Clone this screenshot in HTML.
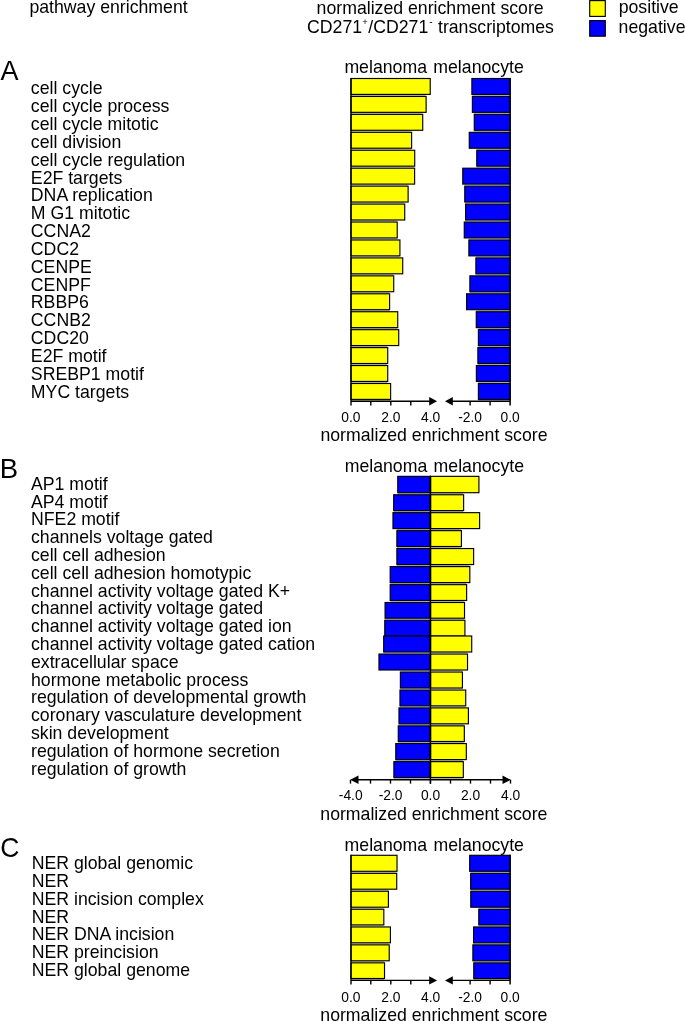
<!DOCTYPE html>
<html><head><meta charset="utf-8"><style>
html,body{margin:0;padding:0;background:#fff;}
svg{display:block;will-change:transform;}
text{font-family:"Liberation Sans", sans-serif;fill:#000;}
</style></head><body>
<svg width="685" height="1021" viewBox="0 0 685 1021">
<rect width="685" height="1021" fill="#fff"/>
<text x="29.4" y="13.0" font-size="17.7" text-anchor="start" >pathway enrichment</text>
<text x="316.6" y="13.75" font-size="17.7" text-anchor="start" >normalized enrichment score</text>
<text x="307.0" y="33.3" font-size="17.7" text-anchor="start" >CD271<tspan font-size="9.5" dy="-8.2" dx="0.2">+</tspan><tspan dy="8.2" dx="0.5">/CD271</tspan><tspan font-size="10" dy="-8.8" dx="1.0">-</tspan><tspan dy="8.8" dx="0.4"> transcriptomes</tspan></text>
<rect x="589.70" y="0.60" width="15.60" height="15.80" fill="#ffff00" stroke="#000" stroke-width="1.15"/>
<rect x="589.70" y="20.60" width="15.60" height="15.60" fill="#0000ff" stroke="#000" stroke-width="1.15"/>
<text x="618.7" y="13.3" font-size="17.7" text-anchor="start" >positive</text>
<text x="618.6" y="33.2" font-size="17.7" text-anchor="start" >negative</text>
<text x="0.6" y="79.5" font-size="27" text-anchor="start" >A</text>
<text x="344.4" y="73.3" font-size="17.7" text-anchor="start" >melanoma</text>
<text x="433.3" y="73.3" font-size="17.7" text-anchor="start" >melanocyte</text>
<text x="30.85" y="94.4" font-size="17.7" text-anchor="start" >cell cycle</text>
<text x="30.85" y="112.23500000000001" font-size="17.7" text-anchor="start" >cell cycle process</text>
<text x="30.85" y="130.07" font-size="17.7" text-anchor="start" >cell cycle mitotic</text>
<text x="30.85" y="147.905" font-size="17.7" text-anchor="start" >cell division</text>
<text x="30.85" y="165.74" font-size="17.7" text-anchor="start" >cell cycle regulation</text>
<text x="30.85" y="183.57500000000002" font-size="17.7" text-anchor="start" >E2F targets</text>
<text x="30.85" y="201.41000000000003" font-size="17.7" text-anchor="start" >DNA replication</text>
<text x="30.85" y="219.245" font-size="17.7" text-anchor="start" >M G1 mitotic</text>
<text x="30.85" y="237.08" font-size="17.7" text-anchor="start" >CCNA2</text>
<text x="30.85" y="254.91500000000002" font-size="17.7" text-anchor="start" >CDC2</text>
<text x="30.85" y="272.75" font-size="17.7" text-anchor="start" >CENPE</text>
<text x="30.85" y="290.58500000000004" font-size="17.7" text-anchor="start" >CENPF</text>
<text x="30.85" y="308.42" font-size="17.7" text-anchor="start" >RBBP6</text>
<text x="30.85" y="326.255" font-size="17.7" text-anchor="start" >CCNB2</text>
<text x="30.85" y="344.09000000000003" font-size="17.7" text-anchor="start" >CDC20</text>
<text x="30.85" y="361.92500000000007" font-size="17.7" text-anchor="start" >E2F motif</text>
<text x="30.85" y="379.76" font-size="17.7" text-anchor="start" >SREBP1 motif</text>
<text x="30.85" y="397.595" font-size="17.7" text-anchor="start" >MYC targets</text>
<rect x="351.00" y="94.80" width="74.60" height="1.00" fill="#b0b0b0"/>
<rect x="472.40" y="94.80" width="37.70" height="1.00" fill="#b0b0b0"/>
<rect x="351.00" y="112.74" width="71.20" height="1.00" fill="#b0b0b0"/>
<rect x="474.30" y="112.74" width="35.80" height="1.00" fill="#b0b0b0"/>
<rect x="351.00" y="130.68" width="60.10" height="1.00" fill="#b0b0b0"/>
<rect x="474.30" y="130.68" width="35.80" height="1.00" fill="#b0b0b0"/>
<rect x="351.00" y="148.62" width="60.10" height="1.00" fill="#b0b0b0"/>
<rect x="476.80" y="148.62" width="33.30" height="1.00" fill="#b0b0b0"/>
<rect x="351.00" y="166.56" width="63.10" height="1.00" fill="#b0b0b0"/>
<rect x="476.80" y="166.56" width="33.30" height="1.00" fill="#b0b0b0"/>
<rect x="351.00" y="184.50" width="56.60" height="1.00" fill="#b0b0b0"/>
<rect x="464.80" y="184.50" width="45.30" height="1.00" fill="#b0b0b0"/>
<rect x="351.00" y="202.44" width="53.20" height="1.00" fill="#b0b0b0"/>
<rect x="465.60" y="202.44" width="44.50" height="1.00" fill="#b0b0b0"/>
<rect x="351.00" y="220.38" width="45.70" height="1.00" fill="#b0b0b0"/>
<rect x="465.60" y="220.38" width="44.50" height="1.00" fill="#b0b0b0"/>
<rect x="351.00" y="238.32" width="45.70" height="1.00" fill="#b0b0b0"/>
<rect x="468.90" y="238.32" width="41.20" height="1.00" fill="#b0b0b0"/>
<rect x="351.00" y="256.26" width="48.40" height="1.00" fill="#b0b0b0"/>
<rect x="475.90" y="256.26" width="34.20" height="1.00" fill="#b0b0b0"/>
<rect x="351.00" y="274.20" width="42.20" height="1.00" fill="#b0b0b0"/>
<rect x="475.90" y="274.20" width="34.20" height="1.00" fill="#b0b0b0"/>
<rect x="351.00" y="292.14" width="38.10" height="1.00" fill="#b0b0b0"/>
<rect x="469.90" y="292.14" width="40.20" height="1.00" fill="#b0b0b0"/>
<rect x="351.00" y="310.08" width="38.10" height="1.00" fill="#b0b0b0"/>
<rect x="476.30" y="310.08" width="33.80" height="1.00" fill="#b0b0b0"/>
<rect x="351.00" y="328.02" width="46.20" height="1.00" fill="#b0b0b0"/>
<rect x="478.40" y="328.02" width="31.70" height="1.00" fill="#b0b0b0"/>
<rect x="351.00" y="345.96" width="36.20" height="1.00" fill="#b0b0b0"/>
<rect x="478.40" y="345.96" width="31.70" height="1.00" fill="#b0b0b0"/>
<rect x="351.00" y="363.90" width="36.20" height="1.00" fill="#b0b0b0"/>
<rect x="477.90" y="363.90" width="32.20" height="1.00" fill="#b0b0b0"/>
<rect x="351.00" y="381.84" width="36.20" height="1.00" fill="#b0b0b0"/>
<rect x="478.40" y="381.84" width="31.70" height="1.00" fill="#b0b0b0"/>
<rect x="351.00" y="399.78" width="39.10" height="1.00" fill="#b0b0b0"/>
<rect x="478.40" y="399.78" width="31.70" height="1.00" fill="#b0b0b0"/>
<rect x="350.97" y="78.50" width="79.25" height="15.90" fill="#ffff00" stroke="#000" stroke-width="1.15"/>
<rect x="471.88" y="78.50" width="38.25" height="15.90" fill="#0000ff" stroke="#000" stroke-width="1.15"/>
<rect x="350.97" y="96.45" width="75.15" height="15.89" fill="#ffff00" stroke="#000" stroke-width="1.15"/>
<rect x="472.38" y="96.45" width="37.75" height="15.89" fill="#0000ff" stroke="#000" stroke-width="1.15"/>
<rect x="350.97" y="114.39" width="71.75" height="15.89" fill="#ffff00" stroke="#000" stroke-width="1.15"/>
<rect x="474.27" y="114.39" width="35.85" height="15.89" fill="#0000ff" stroke="#000" stroke-width="1.15"/>
<rect x="350.97" y="132.33" width="60.65" height="15.89" fill="#ffff00" stroke="#000" stroke-width="1.15"/>
<rect x="469.27" y="132.33" width="40.85" height="15.89" fill="#0000ff" stroke="#000" stroke-width="1.15"/>
<rect x="350.97" y="150.27" width="63.75" height="15.89" fill="#ffff00" stroke="#000" stroke-width="1.15"/>
<rect x="476.77" y="150.27" width="33.35" height="15.89" fill="#0000ff" stroke="#000" stroke-width="1.15"/>
<rect x="350.97" y="168.21" width="63.65" height="15.89" fill="#ffff00" stroke="#000" stroke-width="1.15"/>
<rect x="462.77" y="168.21" width="47.35" height="15.89" fill="#0000ff" stroke="#000" stroke-width="1.15"/>
<rect x="350.97" y="186.15" width="57.15" height="15.89" fill="#ffff00" stroke="#000" stroke-width="1.15"/>
<rect x="464.77" y="186.15" width="45.35" height="15.89" fill="#0000ff" stroke="#000" stroke-width="1.15"/>
<rect x="350.97" y="204.09" width="53.75" height="15.89" fill="#ffff00" stroke="#000" stroke-width="1.15"/>
<rect x="465.57" y="204.09" width="44.55" height="15.89" fill="#0000ff" stroke="#000" stroke-width="1.15"/>
<rect x="350.97" y="222.03" width="46.25" height="15.89" fill="#ffff00" stroke="#000" stroke-width="1.15"/>
<rect x="464.27" y="222.03" width="45.85" height="15.89" fill="#0000ff" stroke="#000" stroke-width="1.15"/>
<rect x="350.97" y="239.97" width="48.95" height="15.89" fill="#ffff00" stroke="#000" stroke-width="1.15"/>
<rect x="468.88" y="239.97" width="41.25" height="15.89" fill="#0000ff" stroke="#000" stroke-width="1.15"/>
<rect x="350.97" y="257.91" width="51.75" height="15.89" fill="#ffff00" stroke="#000" stroke-width="1.15"/>
<rect x="475.88" y="257.91" width="34.25" height="15.89" fill="#0000ff" stroke="#000" stroke-width="1.15"/>
<rect x="350.97" y="275.85" width="42.75" height="15.89" fill="#ffff00" stroke="#000" stroke-width="1.15"/>
<rect x="469.88" y="275.85" width="40.25" height="15.89" fill="#0000ff" stroke="#000" stroke-width="1.15"/>
<rect x="350.97" y="293.79" width="38.65" height="15.89" fill="#ffff00" stroke="#000" stroke-width="1.15"/>
<rect x="466.57" y="293.79" width="43.55" height="15.89" fill="#0000ff" stroke="#000" stroke-width="1.15"/>
<rect x="350.97" y="311.73" width="46.75" height="15.89" fill="#ffff00" stroke="#000" stroke-width="1.15"/>
<rect x="476.27" y="311.73" width="33.85" height="15.89" fill="#0000ff" stroke="#000" stroke-width="1.15"/>
<rect x="350.97" y="329.67" width="47.75" height="15.89" fill="#ffff00" stroke="#000" stroke-width="1.15"/>
<rect x="478.38" y="329.67" width="31.75" height="15.89" fill="#0000ff" stroke="#000" stroke-width="1.15"/>
<rect x="350.97" y="347.61" width="36.75" height="15.89" fill="#ffff00" stroke="#000" stroke-width="1.15"/>
<rect x="477.88" y="347.61" width="32.25" height="15.89" fill="#0000ff" stroke="#000" stroke-width="1.15"/>
<rect x="350.97" y="365.55" width="36.75" height="15.89" fill="#ffff00" stroke="#000" stroke-width="1.15"/>
<rect x="476.38" y="365.55" width="33.75" height="15.89" fill="#0000ff" stroke="#000" stroke-width="1.15"/>
<rect x="350.97" y="383.49" width="39.65" height="15.89" fill="#ffff00" stroke="#000" stroke-width="1.15"/>
<rect x="478.38" y="383.49" width="31.75" height="15.89" fill="#0000ff" stroke="#000" stroke-width="1.15"/>
<line x1="351.00" y1="77.95" x2="351.00" y2="405.48" stroke="#000" stroke-width="1.4"/>
<line x1="510.10" y1="77.95" x2="510.10" y2="405.48" stroke="#000" stroke-width="1.5"/>
<line x1="351.00" y1="401.28" x2="430.00" y2="401.28" stroke="#000" stroke-width="1.4"/>
<polygon points="437.10,401.28 429.20,397.08 429.20,405.48" fill="#000"/>
<line x1="370.80" y1="401.28" x2="370.80" y2="405.48" stroke="#000" stroke-width="1.4"/>
<line x1="390.80" y1="401.28" x2="390.80" y2="405.48" stroke="#000" stroke-width="1.4"/>
<line x1="410.80" y1="401.28" x2="410.80" y2="405.48" stroke="#000" stroke-width="1.4"/>
<line x1="452.00" y1="401.28" x2="510.10" y2="401.28" stroke="#000" stroke-width="1.4"/>
<polygon points="445.00,401.28 452.80,397.08 452.80,405.48" fill="#000"/>
<line x1="490.10" y1="401.28" x2="490.10" y2="405.48" stroke="#000" stroke-width="1.4"/>
<line x1="470.10" y1="401.28" x2="470.10" y2="405.48" stroke="#000" stroke-width="1.4"/>
<text x="350.8" y="421.9" font-size="13.8" text-anchor="middle" >0.0</text>
<text x="390.8" y="421.9" font-size="13.8" text-anchor="middle" >2.0</text>
<text x="430.6" y="421.9" font-size="13.8" text-anchor="middle" >4.0</text>
<text x="470.1" y="421.9" font-size="13.8" text-anchor="middle" >-2.0</text>
<text x="510.1" y="421.9" font-size="13.8" text-anchor="middle" >0.0</text>
<text x="320.4" y="441.2" font-size="17.7" text-anchor="start" >normalized enrichment score</text>
<text x="-0.3" y="477.9" font-size="27.5" text-anchor="start" >B</text>
<text x="344.7" y="471.6" font-size="17.7" text-anchor="start" >melanoma</text>
<text x="433.6" y="471.6" font-size="17.7" text-anchor="start" >melanocyte</text>
<text x="31.0" y="489.9" font-size="17.7" text-anchor="start" >AP1 motif</text>
<text x="31.0" y="507.69" font-size="17.7" text-anchor="start" >AP4 motif</text>
<text x="31.0" y="525.48" font-size="17.7" text-anchor="start" >NFE2 motif</text>
<text x="31.0" y="543.27" font-size="17.7" text-anchor="start" >channels voltage gated</text>
<text x="31.0" y="561.06" font-size="17.7" text-anchor="start" >cell cell adhesion</text>
<text x="31.0" y="578.8499999999999" font-size="17.7" text-anchor="start" >cell cell adhesion homotypic</text>
<text x="31.0" y="596.64" font-size="17.7" text-anchor="start" >channel activity voltage gated K+</text>
<text x="31.0" y="614.43" font-size="17.7" text-anchor="start" >channel activity voltage gated</text>
<text x="31.0" y="632.22" font-size="17.7" text-anchor="start" >channel activity voltage gated ion</text>
<text x="31.0" y="650.01" font-size="17.7" text-anchor="start" >channel activity voltage gated cation</text>
<text x="31.0" y="667.8" font-size="17.7" text-anchor="start" >extracellular space</text>
<text x="31.0" y="685.5899999999999" font-size="17.7" text-anchor="start" >hormone metabolic process</text>
<text x="31.0" y="703.38" font-size="17.7" text-anchor="start" >regulation of developmental growth</text>
<text x="31.0" y="721.17" font-size="17.7" text-anchor="start" >coronary vasculature development</text>
<text x="31.0" y="738.96" font-size="17.7" text-anchor="start" >skin development</text>
<text x="31.0" y="756.75" font-size="17.7" text-anchor="start" >regulation of hormone secretion</text>
<text x="31.0" y="774.54" font-size="17.7" text-anchor="start" >regulation of growth</text>
<rect x="397.80" y="493.10" width="65.30" height="1.00" fill="#b0b0b0"/>
<rect x="393.70" y="511.00" width="69.40" height="1.00" fill="#b0b0b0"/>
<rect x="396.90" y="529.00" width="64.00" height="1.00" fill="#b0b0b0"/>
<rect x="396.90" y="546.90" width="64.00" height="1.00" fill="#b0b0b0"/>
<rect x="396.90" y="564.95" width="72.40" height="1.00" fill="#b0b0b0"/>
<rect x="390.20" y="583.00" width="75.90" height="1.00" fill="#b0b0b0"/>
<rect x="390.20" y="600.85" width="73.80" height="1.00" fill="#b0b0b0"/>
<rect x="385.10" y="618.60" width="78.90" height="1.00" fill="#b0b0b0"/>
<rect x="383.70" y="652.40" width="83.30" height="1.00" fill="#b0b0b0"/>
<rect x="400.40" y="670.40" width="61.50" height="1.00" fill="#b0b0b0"/>
<rect x="400.40" y="688.40" width="61.50" height="1.00" fill="#b0b0b0"/>
<rect x="400.00" y="706.25" width="65.20" height="1.00" fill="#b0b0b0"/>
<rect x="399.00" y="724.20" width="64.80" height="1.00" fill="#b0b0b0"/>
<rect x="398.30" y="741.90" width="65.50" height="1.00" fill="#b0b0b0"/>
<rect x="395.80" y="760.00" width="67.00" height="1.00" fill="#b0b0b0"/>
<rect x="393.90" y="777.90" width="68.90" height="1.00" fill="#b0b0b0"/>
<rect x="397.77" y="476.35" width="32.35" height="16.35" fill="#0000ff" stroke="#000" stroke-width="1.15"/>
<rect x="430.67" y="476.35" width="48.25" height="16.35" fill="#ffff00" stroke="#000" stroke-width="1.15"/>
<rect x="393.68" y="494.75" width="36.45" height="15.85" fill="#0000ff" stroke="#000" stroke-width="1.15"/>
<rect x="430.67" y="494.75" width="32.95" height="15.85" fill="#ffff00" stroke="#000" stroke-width="1.15"/>
<rect x="392.97" y="512.65" width="37.15" height="15.95" fill="#0000ff" stroke="#000" stroke-width="1.15"/>
<rect x="430.67" y="512.65" width="48.95" height="15.95" fill="#ffff00" stroke="#000" stroke-width="1.15"/>
<rect x="396.88" y="530.65" width="33.25" height="15.85" fill="#0000ff" stroke="#000" stroke-width="1.15"/>
<rect x="430.67" y="530.65" width="30.75" height="15.85" fill="#ffff00" stroke="#000" stroke-width="1.15"/>
<rect x="396.88" y="548.55" width="33.25" height="16.00" fill="#0000ff" stroke="#000" stroke-width="1.15"/>
<rect x="430.67" y="548.55" width="42.95" height="16.00" fill="#ffff00" stroke="#000" stroke-width="1.15"/>
<rect x="390.18" y="566.60" width="39.95" height="16.00" fill="#0000ff" stroke="#000" stroke-width="1.15"/>
<rect x="430.67" y="566.60" width="39.15" height="16.00" fill="#ffff00" stroke="#000" stroke-width="1.15"/>
<rect x="390.18" y="584.65" width="39.95" height="15.80" fill="#0000ff" stroke="#000" stroke-width="1.15"/>
<rect x="430.67" y="584.65" width="35.95" height="15.80" fill="#ffff00" stroke="#000" stroke-width="1.15"/>
<rect x="385.07" y="602.50" width="45.05" height="15.70" fill="#0000ff" stroke="#000" stroke-width="1.15"/>
<rect x="430.67" y="602.50" width="33.85" height="15.70" fill="#ffff00" stroke="#000" stroke-width="1.15"/>
<rect x="384.77" y="620.25" width="45.35" height="15.75" fill="#0000ff" stroke="#000" stroke-width="1.15"/>
<rect x="430.67" y="620.25" width="34.25" height="15.75" fill="#ffff00" stroke="#000" stroke-width="1.15"/>
<rect x="383.68" y="636.00" width="46.45" height="16.00" fill="#0000ff" stroke="#000" stroke-width="1.15"/>
<rect x="430.67" y="636.00" width="41.05" height="16.00" fill="#ffff00" stroke="#000" stroke-width="1.15"/>
<rect x="378.97" y="654.05" width="51.15" height="15.95" fill="#0000ff" stroke="#000" stroke-width="1.15"/>
<rect x="430.67" y="654.05" width="36.85" height="15.95" fill="#ffff00" stroke="#000" stroke-width="1.15"/>
<rect x="400.38" y="672.05" width="29.75" height="15.95" fill="#0000ff" stroke="#000" stroke-width="1.15"/>
<rect x="430.67" y="672.05" width="31.75" height="15.95" fill="#ffff00" stroke="#000" stroke-width="1.15"/>
<rect x="399.97" y="690.05" width="30.15" height="15.80" fill="#0000ff" stroke="#000" stroke-width="1.15"/>
<rect x="430.67" y="690.05" width="35.05" height="15.80" fill="#ffff00" stroke="#000" stroke-width="1.15"/>
<rect x="398.97" y="707.90" width="31.15" height="15.90" fill="#0000ff" stroke="#000" stroke-width="1.15"/>
<rect x="430.67" y="707.90" width="37.75" height="15.90" fill="#ffff00" stroke="#000" stroke-width="1.15"/>
<rect x="398.27" y="725.85" width="31.85" height="15.65" fill="#0000ff" stroke="#000" stroke-width="1.15"/>
<rect x="430.67" y="725.85" width="33.65" height="15.65" fill="#ffff00" stroke="#000" stroke-width="1.15"/>
<rect x="395.77" y="743.55" width="34.35" height="16.05" fill="#0000ff" stroke="#000" stroke-width="1.15"/>
<rect x="430.67" y="743.55" width="35.65" height="16.05" fill="#ffff00" stroke="#000" stroke-width="1.15"/>
<rect x="393.88" y="761.65" width="36.25" height="15.85" fill="#0000ff" stroke="#000" stroke-width="1.15"/>
<rect x="430.67" y="761.65" width="32.65" height="15.85" fill="#ffff00" stroke="#000" stroke-width="1.15"/>
<line x1="430.40" y1="475.80" x2="430.40" y2="783.80" stroke="#000" stroke-width="1.4"/>
<line x1="358.00" y1="779.80" x2="503.00" y2="779.80" stroke="#000" stroke-width="1.4"/>
<polygon points="350.20,779.80 358.50,775.60 358.50,784.00" fill="#000"/>
<polygon points="510.80,779.80 502.50,775.60 502.50,784.00" fill="#000"/>
<line x1="350.50" y1="779.80" x2="350.50" y2="783.60" stroke="#000" stroke-width="1.4"/>
<line x1="370.50" y1="779.80" x2="370.50" y2="783.60" stroke="#000" stroke-width="1.4"/>
<line x1="390.50" y1="779.80" x2="390.50" y2="783.60" stroke="#000" stroke-width="1.4"/>
<line x1="410.50" y1="779.80" x2="410.50" y2="783.60" stroke="#000" stroke-width="1.4"/>
<line x1="430.50" y1="779.80" x2="430.50" y2="783.60" stroke="#000" stroke-width="1.4"/>
<line x1="450.50" y1="779.80" x2="450.50" y2="783.60" stroke="#000" stroke-width="1.4"/>
<line x1="470.50" y1="779.80" x2="470.50" y2="783.60" stroke="#000" stroke-width="1.4"/>
<line x1="490.50" y1="779.80" x2="490.50" y2="783.60" stroke="#000" stroke-width="1.4"/>
<line x1="510.50" y1="779.80" x2="510.50" y2="783.60" stroke="#000" stroke-width="1.4"/>
<text x="350.7" y="800.4" font-size="13.8" text-anchor="middle" >-4.0</text>
<text x="390.6" y="800.4" font-size="13.8" text-anchor="middle" >-2.0</text>
<text x="430.5" y="800.4" font-size="13.8" text-anchor="middle" >0.0</text>
<text x="470.5" y="800.4" font-size="13.8" text-anchor="middle" >2.0</text>
<text x="510.6" y="800.4" font-size="13.8" text-anchor="middle" >4.0</text>
<text x="320.3" y="820.1" font-size="17.7" text-anchor="start" >normalized enrichment score</text>
<text transform="translate(0.3,856.95) scale(1,1.075)" font-size="26.5">C</text>
<text x="344.6" y="850.5" font-size="17.7" text-anchor="start" >melanoma</text>
<text x="433.5" y="850.5" font-size="17.7" text-anchor="start" >melanocyte</text>
<text x="31.75" y="868.8" font-size="17.7" text-anchor="start" >NER global genomic</text>
<text x="31.75" y="886.7199999999999" font-size="17.7" text-anchor="start" >NER</text>
<text x="31.75" y="904.64" font-size="17.7" text-anchor="start" >NER incision complex</text>
<text x="31.75" y="922.56" font-size="17.7" text-anchor="start" >NER</text>
<text x="31.75" y="940.48" font-size="17.7" text-anchor="start" >NER DNA incision</text>
<text x="31.75" y="958.4" font-size="17.7" text-anchor="start" >NER preincision</text>
<text x="31.75" y="976.3199999999999" font-size="17.7" text-anchor="start" >NER global genome</text>
<rect x="351.00" y="871.70" width="45.20" height="1.00" fill="#b0b0b0"/>
<rect x="470.70" y="871.70" width="39.40" height="1.00" fill="#b0b0b0"/>
<rect x="351.00" y="889.60" width="36.90" height="1.00" fill="#b0b0b0"/>
<rect x="470.80" y="889.60" width="39.30" height="1.00" fill="#b0b0b0"/>
<rect x="351.00" y="907.60" width="32.30" height="1.00" fill="#b0b0b0"/>
<rect x="478.80" y="907.60" width="31.30" height="1.00" fill="#b0b0b0"/>
<rect x="351.00" y="925.30" width="32.30" height="1.00" fill="#b0b0b0"/>
<rect x="478.80" y="925.30" width="31.30" height="1.00" fill="#b0b0b0"/>
<rect x="351.00" y="943.20" width="37.70" height="1.00" fill="#b0b0b0"/>
<rect x="473.60" y="943.20" width="36.50" height="1.00" fill="#b0b0b0"/>
<rect x="351.00" y="961.20" width="33.00" height="1.00" fill="#b0b0b0"/>
<rect x="473.80" y="961.20" width="36.30" height="1.00" fill="#b0b0b0"/>
<rect x="351.00" y="978.90" width="33.00" height="1.00" fill="#b0b0b0"/>
<rect x="473.80" y="978.90" width="36.30" height="1.00" fill="#b0b0b0"/>
<rect x="350.97" y="855.30" width="46.05" height="16.00" fill="#ffff00" stroke="#000" stroke-width="1.15"/>
<rect x="469.68" y="855.30" width="40.45" height="16.00" fill="#0000ff" stroke="#000" stroke-width="1.15"/>
<rect x="350.97" y="873.35" width="45.75" height="15.85" fill="#ffff00" stroke="#000" stroke-width="1.15"/>
<rect x="470.68" y="873.35" width="39.45" height="15.85" fill="#0000ff" stroke="#000" stroke-width="1.15"/>
<rect x="350.97" y="891.25" width="37.45" height="15.95" fill="#ffff00" stroke="#000" stroke-width="1.15"/>
<rect x="470.77" y="891.25" width="39.35" height="15.95" fill="#0000ff" stroke="#000" stroke-width="1.15"/>
<rect x="350.97" y="909.25" width="32.85" height="15.65" fill="#ffff00" stroke="#000" stroke-width="1.15"/>
<rect x="478.77" y="909.25" width="31.35" height="15.65" fill="#0000ff" stroke="#000" stroke-width="1.15"/>
<rect x="350.97" y="926.95" width="39.45" height="15.85" fill="#ffff00" stroke="#000" stroke-width="1.15"/>
<rect x="473.57" y="926.95" width="36.55" height="15.85" fill="#0000ff" stroke="#000" stroke-width="1.15"/>
<rect x="350.97" y="944.85" width="38.25" height="15.95" fill="#ffff00" stroke="#000" stroke-width="1.15"/>
<rect x="472.88" y="944.85" width="37.25" height="15.95" fill="#0000ff" stroke="#000" stroke-width="1.15"/>
<rect x="350.97" y="962.85" width="33.55" height="15.65" fill="#ffff00" stroke="#000" stroke-width="1.15"/>
<rect x="473.77" y="962.85" width="36.35" height="15.65" fill="#0000ff" stroke="#000" stroke-width="1.15"/>
<line x1="351.00" y1="854.75" x2="351.00" y2="984.60" stroke="#000" stroke-width="1.4"/>
<line x1="510.10" y1="854.75" x2="510.10" y2="984.60" stroke="#000" stroke-width="1.5"/>
<line x1="351.00" y1="980.40" x2="430.00" y2="980.40" stroke="#000" stroke-width="1.4"/>
<polygon points="437.10,980.40 429.20,976.20 429.20,984.60" fill="#000"/>
<line x1="370.80" y1="980.40" x2="370.80" y2="984.60" stroke="#000" stroke-width="1.4"/>
<line x1="390.80" y1="980.40" x2="390.80" y2="984.60" stroke="#000" stroke-width="1.4"/>
<line x1="410.80" y1="980.40" x2="410.80" y2="984.60" stroke="#000" stroke-width="1.4"/>
<line x1="452.00" y1="980.40" x2="510.10" y2="980.40" stroke="#000" stroke-width="1.4"/>
<polygon points="445.00,980.40 452.80,976.20 452.80,984.60" fill="#000"/>
<line x1="490.10" y1="980.40" x2="490.10" y2="984.60" stroke="#000" stroke-width="1.4"/>
<line x1="470.10" y1="980.40" x2="470.10" y2="984.60" stroke="#000" stroke-width="1.4"/>
<text x="350.8" y="1001.6" font-size="13.8" text-anchor="middle" >0.0</text>
<text x="390.8" y="1001.6" font-size="13.8" text-anchor="middle" >2.0</text>
<text x="430.6" y="1001.6" font-size="13.8" text-anchor="middle" >4.0</text>
<text x="470.1" y="1001.6" font-size="13.8" text-anchor="middle" >-2.0</text>
<text x="510.1" y="1001.6" font-size="13.8" text-anchor="middle" >0.0</text>
<text x="320.3" y="1021.0" font-size="17.7" text-anchor="start" >normalized enrichment score</text>
</svg>
</body></html>
